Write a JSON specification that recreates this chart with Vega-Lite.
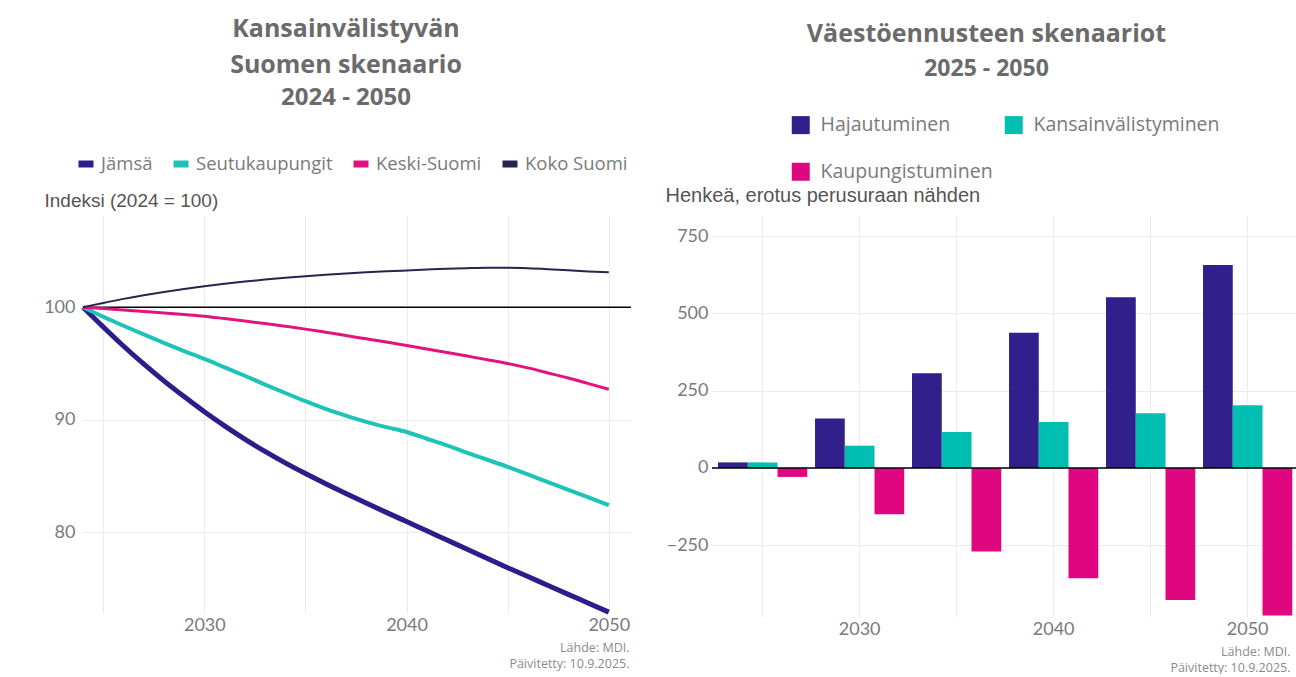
{
  "$schema": "https://vega.github.io/schema/vega-lite/v6.json",
  "padding": {"left": 43, "top": 17, "right": 0, "bottom": 0},
  "spacing": 33,
  "resolve": {"scale": {"color": "independent", "y": "independent", "x": "independent"}, "legend": {"color": "independent"}},
  "config": {
    "view": {"stroke": null},
    "font": "Open Sans",
    "axis": {"gridColor": "#ebebeb", "gridWidth": 1, "domain": false, "ticks": false, "labelColor": "#7a7a7a", "labelFont": "Lato", "labelFontSize": 18},
    "legend": {"labelFont": "Open Sans", "labelColor": "#7a7a7a"},
    "title": {"font": "Open Sans", "color": "#6b6b6b", "fontWeight": "bold", "subtitleFont": "Open Sans", "subtitleColor": "#6b6b6b", "subtitleFontWeight": "bold"}
  },
  "hconcat": [
    {
      "width": 548,
      "height": 398,
      "title": {"text": ["Kansainvälistyvän", "Suomen skenaario"], "subtitle": "2024 - 2050", "fontSize": 25, "lineHeight": 36, "subtitleFontSize": 24, "subtitlePadding": 8, "anchor": "middle", "dx": -11, "offset": 43},
      "layer": [
        {
          "data": {"values": [{"ref": 100}]},
          "mark": {"type": "rule", "color": "#000000", "strokeWidth": 1.5},
          "encoding": {"y": {"field": "ref", "type": "quantitative", "scale": {"domain": [72.8, 108.2], "nice": false, "zero": false}}}
        },
        {
          "data": {"values": [
            {"year": 2024, "series": "Jämsä", "value": 100},
            {"year": 2025, "series": "Jämsä", "value": 98.25},
            {"year": 2026, "series": "Jämsä", "value": 96.55},
            {"year": 2027, "series": "Jämsä", "value": 94.95},
            {"year": 2028, "series": "Jämsä", "value": 93.45},
            {"year": 2029, "series": "Jämsä", "value": 92.05},
            {"year": 2030, "series": "Jämsä", "value": 90.7},
            {"year": 2031, "series": "Jämsä", "value": 89.45},
            {"year": 2032, "series": "Jämsä", "value": 88.27},
            {"year": 2033, "series": "Jämsä", "value": 87.17},
            {"year": 2034, "series": "Jämsä", "value": 86.15},
            {"year": 2035, "series": "Jämsä", "value": 85.2},
            {"year": 2036, "series": "Jämsä", "value": 84.3},
            {"year": 2037, "series": "Jämsä", "value": 83.43},
            {"year": 2038, "series": "Jämsä", "value": 82.58},
            {"year": 2039, "series": "Jämsä", "value": 81.75},
            {"year": 2040, "series": "Jämsä", "value": 80.93},
            {"year": 2041, "series": "Jämsä", "value": 80.11},
            {"year": 2042, "series": "Jämsä", "value": 79.29},
            {"year": 2043, "series": "Jämsä", "value": 78.47},
            {"year": 2044, "series": "Jämsä", "value": 77.65},
            {"year": 2045, "series": "Jämsä", "value": 76.83},
            {"year": 2046, "series": "Jämsä", "value": 76.04},
            {"year": 2047, "series": "Jämsä", "value": 75.25},
            {"year": 2048, "series": "Jämsä", "value": 74.46},
            {"year": 2049, "series": "Jämsä", "value": 73.67},
            {"year": 2050, "series": "Jämsä", "value": 72.88},
            {"year": 2024, "series": "Seutukaupungit", "value": 100},
            {"year": 2025, "series": "Seutukaupungit", "value": 99.15},
            {"year": 2026, "series": "Seutukaupungit", "value": 98.35},
            {"year": 2027, "series": "Seutukaupungit", "value": 97.58},
            {"year": 2028, "series": "Seutukaupungit", "value": 96.83},
            {"year": 2029, "series": "Seutukaupungit", "value": 96.1},
            {"year": 2030, "series": "Seutukaupungit", "value": 95.4},
            {"year": 2031, "series": "Seutukaupungit", "value": 94.65},
            {"year": 2032, "series": "Seutukaupungit", "value": 93.9},
            {"year": 2033, "series": "Seutukaupungit", "value": 93.12},
            {"year": 2034, "series": "Seutukaupungit", "value": 92.37},
            {"year": 2035, "series": "Seutukaupungit", "value": 91.64},
            {"year": 2036, "series": "Seutukaupungit", "value": 90.95},
            {"year": 2037, "series": "Seutukaupungit", "value": 90.35},
            {"year": 2038, "series": "Seutukaupungit", "value": 89.8},
            {"year": 2039, "series": "Seutukaupungit", "value": 89.33},
            {"year": 2040, "series": "Seutukaupungit", "value": 88.9},
            {"year": 2041, "series": "Seutukaupungit", "value": 88.3},
            {"year": 2042, "series": "Seutukaupungit", "value": 87.7},
            {"year": 2043, "series": "Seutukaupungit", "value": 87.05},
            {"year": 2044, "series": "Seutukaupungit", "value": 86.43},
            {"year": 2045, "series": "Seutukaupungit", "value": 85.8},
            {"year": 2046, "series": "Seutukaupungit", "value": 85.12},
            {"year": 2047, "series": "Seutukaupungit", "value": 84.44},
            {"year": 2048, "series": "Seutukaupungit", "value": 83.76},
            {"year": 2049, "series": "Seutukaupungit", "value": 83.08},
            {"year": 2050, "series": "Seutukaupungit", "value": 82.4},
            {"year": 2024, "series": "Keski-Suomi", "value": 100},
            {"year": 2025, "series": "Keski-Suomi", "value": 99.88},
            {"year": 2026, "series": "Keski-Suomi", "value": 99.75},
            {"year": 2027, "series": "Keski-Suomi", "value": 99.62},
            {"year": 2028, "series": "Keski-Suomi", "value": 99.49},
            {"year": 2029, "series": "Keski-Suomi", "value": 99.35},
            {"year": 2030, "series": "Keski-Suomi", "value": 99.2},
            {"year": 2031, "series": "Keski-Suomi", "value": 98.99},
            {"year": 2032, "series": "Keski-Suomi", "value": 98.77},
            {"year": 2033, "series": "Keski-Suomi", "value": 98.54},
            {"year": 2034, "series": "Keski-Suomi", "value": 98.3},
            {"year": 2035, "series": "Keski-Suomi", "value": 98.05},
            {"year": 2036, "series": "Keski-Suomi", "value": 97.77},
            {"year": 2037, "series": "Keski-Suomi", "value": 97.48},
            {"year": 2038, "series": "Keski-Suomi", "value": 97.19},
            {"year": 2039, "series": "Keski-Suomi", "value": 96.9},
            {"year": 2040, "series": "Keski-Suomi", "value": 96.6},
            {"year": 2041, "series": "Keski-Suomi", "value": 96.29},
            {"year": 2042, "series": "Keski-Suomi", "value": 95.97},
            {"year": 2043, "series": "Keski-Suomi", "value": 95.65},
            {"year": 2044, "series": "Keski-Suomi", "value": 95.33},
            {"year": 2045, "series": "Keski-Suomi", "value": 95.0},
            {"year": 2046, "series": "Keski-Suomi", "value": 94.6},
            {"year": 2047, "series": "Keski-Suomi", "value": 94.15},
            {"year": 2048, "series": "Keski-Suomi", "value": 93.7},
            {"year": 2049, "series": "Keski-Suomi", "value": 93.2},
            {"year": 2050, "series": "Keski-Suomi", "value": 92.7},
            {"year": 2024, "series": "Koko Suomi", "value": 100},
            {"year": 2025, "series": "Koko Suomi", "value": 100.38},
            {"year": 2026, "series": "Koko Suomi", "value": 100.74},
            {"year": 2027, "series": "Koko Suomi", "value": 101.06},
            {"year": 2028, "series": "Koko Suomi", "value": 101.35},
            {"year": 2029, "series": "Koko Suomi", "value": 101.62},
            {"year": 2030, "series": "Koko Suomi", "value": 101.86},
            {"year": 2031, "series": "Koko Suomi", "value": 102.08},
            {"year": 2032, "series": "Koko Suomi", "value": 102.28},
            {"year": 2033, "series": "Koko Suomi", "value": 102.46},
            {"year": 2034, "series": "Koko Suomi", "value": 102.62},
            {"year": 2035, "series": "Koko Suomi", "value": 102.76},
            {"year": 2036, "series": "Koko Suomi", "value": 102.89},
            {"year": 2037, "series": "Koko Suomi", "value": 103.0},
            {"year": 2038, "series": "Koko Suomi", "value": 103.1},
            {"year": 2039, "series": "Koko Suomi", "value": 103.19},
            {"year": 2040, "series": "Koko Suomi", "value": 103.27},
            {"year": 2041, "series": "Koko Suomi", "value": 103.35},
            {"year": 2042, "series": "Koko Suomi", "value": 103.42},
            {"year": 2043, "series": "Koko Suomi", "value": 103.47},
            {"year": 2044, "series": "Koko Suomi", "value": 103.5},
            {"year": 2045, "series": "Koko Suomi", "value": 103.5},
            {"year": 2046, "series": "Koko Suomi", "value": 103.46},
            {"year": 2047, "series": "Koko Suomi", "value": 103.38},
            {"year": 2048, "series": "Koko Suomi", "value": 103.28},
            {"year": 2049, "series": "Koko Suomi", "value": 103.18},
            {"year": 2050, "series": "Koko Suomi", "value": 103.1}
          ]},
          "mark": {"type": "line", "interpolate": "monotone"},
          "encoding": {
            "x": {"field": "year", "type": "quantitative", "scale": {"domain": [2024, 2051.1], "nice": false, "zero": false},
                  "axis": {"values": [2025, 2030, 2035, 2040, 2045, 2050], "labelExpr": "datum.value % 10 == 0 ? datum.value : ''", "labelPadding": 3,
                           "title": ["Lähde: MDI.", "Päivitetty: 10.9.2025."], "titleFont": "Open Sans", "titleFontSize": 12.5, "titleFontWeight": "normal", "titleColor": "#8a8a8a", "titleLineHeight": 16, "titlePadding": 7, "titleX": 546, "titleAlign": "right"}},
            "y": {"field": "value", "type": "quantitative", "scale": {"domain": [72.8, 108.2], "nice": false, "zero": false},
                  "axis": {"values": [80, 90, 100], "labelPadding": 8, "title": "Indeksi (2024 = 100)", "titleFont": "Liberation Sans", "titleFontSize": 19, "titleFontWeight": "normal", "titleColor": "#555555", "titleAngle": 0, "titleAlign": "left", "titleBaseline": "alphabetic", "titleX": -39, "titleY": -9}},
            "color": {"field": "series", "type": "nominal",
                      "scale": {"domain": ["Jämsä", "Seutukaupungit", "Keski-Suomi", "Koko Suomi"], "range": ["#2f1c8c", "#1cc3b6", "#e2137f", "#29234f"]},
                      "legend": {"title": null, "orient": "none", "direction": "horizontal", "legendX": -8, "legendY": -62, "symbolType": "stroke", "symbolSize": 225, "symbolStrokeWidth": 7, "labelFontSize": 18.5, "labelOffset": 4, "columnPadding": 6, "labelLimit": 300}},
            "strokeWidth": {"field": "series", "type": "nominal", "scale": {"domain": ["Jämsä", "Seutukaupungit", "Keski-Suomi", "Koko Suomi"], "range": [5, 2, 2, 2.5]}, "legend": null}
          }
        }
      ]
    },
    {
      "width": 595,
      "height": 402,
      "title": {"text": "Väestöennusteen skenaariot", "subtitle": "2025 - 2050", "fontSize": 25, "subtitleFontSize": 23, "subtitlePadding": 11, "anchor": "middle", "dx": -23, "offset": 34},
      "layer": [
        {
          "data": {"values": [
            {"year": 2025, "scenario": "Hajautuminen", "value": 18},
            {"year": 2025, "scenario": "Kansainvälistyminen", "value": 18},
            {"year": 2025, "scenario": "Kaupungistuminen", "value": -29},
            {"year": 2030, "scenario": "Hajautuminen", "value": 160},
            {"year": 2030, "scenario": "Kansainvälistyminen", "value": 72},
            {"year": 2030, "scenario": "Kaupungistuminen", "value": -150},
            {"year": 2035, "scenario": "Hajautuminen", "value": 306},
            {"year": 2035, "scenario": "Kansainvälistyminen", "value": 116},
            {"year": 2035, "scenario": "Kaupungistuminen", "value": -270},
            {"year": 2040, "scenario": "Hajautuminen", "value": 437},
            {"year": 2040, "scenario": "Kansainvälistyminen", "value": 149},
            {"year": 2040, "scenario": "Kaupungistuminen", "value": -357},
            {"year": 2045, "scenario": "Hajautuminen", "value": 552},
            {"year": 2045, "scenario": "Kansainvälistyminen", "value": 177},
            {"year": 2045, "scenario": "Kaupungistuminen", "value": -427},
            {"year": 2050, "scenario": "Hajautuminen", "value": 656},
            {"year": 2050, "scenario": "Kansainvälistyminen", "value": 203},
            {"year": 2050, "scenario": "Kaupungistuminen", "value": -477}
          ]},
          "mark": {"type": "bar"},
          "encoding": {
            "x": {"field": "year", "type": "ordinal", "scale": {"paddingInner": 0.08, "paddingOuter": 0.107, "align": 0.29},
                  "axis": {"grid": true, "tickBand": "center", "labelAngle": 0, "labelExpr": "datum.value % 10 == 0 ? datum.label : ''", "labelPadding": 3,
                           "title": ["Lähde: MDI.", "Päivitetty: 10.9.2025."], "titleFont": "Open Sans", "titleFontSize": 12.5, "titleFontWeight": "normal", "titleColor": "#8a8a8a", "titleLineHeight": 16, "titlePadding": 7, "titleX": 578, "titleAlign": "right"}},
            "xOffset": {"field": "scenario", "type": "nominal", "sort": ["Hajautuminen", "Kansainvälistyminen", "Kaupungistuminen"]},
            "y": {"field": "value", "type": "quantitative", "scale": {"domain": [-482, 818], "nice": false, "zero": false},
                  "axis": {"values": [-250, 0, 250, 500, 750], "labelPadding": 4, "title": "Henkeä, erotus perusuraan nähden", "titleFont": "Liberation Sans", "titleFontSize": 20, "titleFontWeight": "normal", "titleColor": "#555555", "titleAngle": 0, "titleAlign": "left", "titleBaseline": "alphabetic", "titleX": -47, "titleY": -14}},
            "color": {"field": "scenario", "type": "nominal",
                      "scale": {"domain": ["Hajautuminen", "Kansainvälistyminen", "Kaupungistuminen"], "range": ["#31208c", "#00bfb2", "#e0067f"]},
                      "legend": {"title": null, "orient": "none", "direction": "horizontal", "columns": 2, "legendX": 79, "legendY": -100, "symbolType": "square", "symbolSize": 324, "symbolStrokeWidth": 0, "symbolOpacity": 1, "labelFontSize": 19.5, "labelOffset": 10, "columnPadding": 11, "rowPadding": 26, "labelLimit": 300}}
          }
        },
        {
          "data": {"values": [{"ref": 0}]},
          "mark": {"type": "rule", "color": "#000000", "strokeWidth": 1.5},
          "encoding": {"y": {"field": "ref", "type": "quantitative"}}
        }
      ]
    }
  ]
}
